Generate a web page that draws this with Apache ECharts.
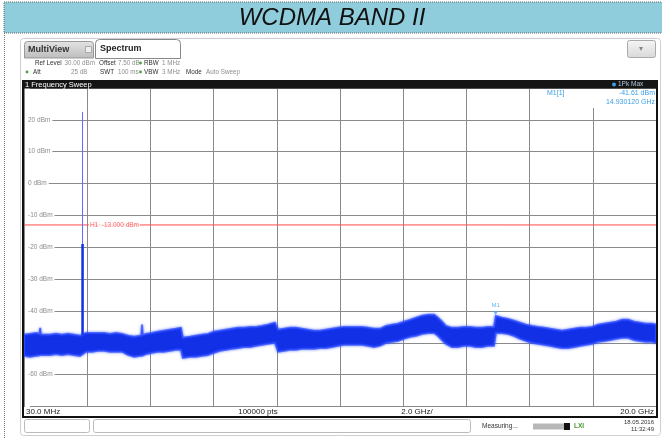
<!DOCTYPE html>
<html><head><meta charset="utf-8">
<script src="https://cdn.jsdelivr.net/npm/echarts@6/dist/echarts.min.js"></script>
<style>html,body{margin:0;padding:0;background:#fff}#c{width:662px;height:439px}</style>
</head><body><div id="c"></div>
<script>
// ---- data (frequency in GHz, level in dBm) ----
const freqGHz = [0.03,0.22,0.41,0.52,0.54,0.56,0.66,0.85,1.04,1.23,1.42,1.61,1.80,1.99,2.18,2.37,2.56,2.75,2.94,3.13,3.32,3.51,3.70,3.74,3.76,3.78,3.89,4.07,4.26,4.45,4.64,4.83,4.99,5.05,5.28,5.46,5.65,5.84,6.03,6.22,6.41,6.60,6.79,6.98,7.17,7.36,7.55,7.74,7.96,8.06,8.25,8.43,8.62,8.81,9.00,9.19,9.38,9.57,9.76,9.95,10.14,10.33,10.52,10.71,10.90,11.09,11.28,11.47,11.66,11.85,12.04,12.23,12.42,12.61,12.80,12.99,13.11,13.24,13.36,13.55,13.74,13.93,14.12,14.31,14.50,14.69,14.88,14.94,15.13,15.32,15.51,15.70,15.89,16.08,16.27,16.46,16.65,16.84,17.03,17.22,17.41,17.60,17.79,17.98,18.17,18.36,18.55,18.74,18.93,19.12,19.31,19.50,19.68,19.87,20.00];
const traceTop = [-47.5,-47.2,-46.9,-47.2,-45.3,-47.4,-47.5,-47.5,-47.2,-47.5,-47.2,-47.5,-47.8,-46.9,-46.9,-46.9,-46.9,-47.2,-46.9,-47.2,-47.8,-48.1,-47.8,-47.8,-44.3,-47.6,-47.2,-46.9,-46.5,-46.2,-45.9,-45.6,-45.3,-48.4,-48.1,-47.8,-47.5,-47.2,-46.5,-46.2,-45.9,-45.6,-45.3,-45.3,-45.0,-45.0,-44.7,-44.3,-43.7,-45.9,-45.6,-45.3,-45.3,-45.6,-45.9,-46.2,-46.2,-45.9,-45.6,-45.3,-45.0,-45.0,-45.0,-45.0,-45.3,-45.6,-45.6,-44.7,-44.3,-44.0,-43.4,-42.8,-42.1,-41.5,-41.2,-41.2,-42.1,-43.4,-44.7,-45.3,-45.3,-45.0,-45.0,-45.3,-45.3,-45.0,-45.0,-41.6,-42.1,-42.5,-43.1,-43.7,-44.3,-44.7,-45.0,-45.3,-45.6,-45.9,-46.2,-45.9,-45.6,-45.3,-45.3,-45.0,-44.3,-44.0,-43.7,-43.4,-42.8,-42.8,-43.4,-43.7,-44.0,-44.0,-44.3];
const traceBottom = [-54.1,-54.4,-54.1,-53.9,-53.8,-53.8,-53.8,-53.8,-53.5,-53.8,-53.5,-53.8,-54.1,-52.8,-52.8,-52.5,-52.5,-52.8,-52.8,-52.8,-53.8,-54.4,-54.1,-54.1,-54.0,-54.0,-53.5,-53.1,-52.8,-52.8,-52.5,-52.2,-52.2,-54.7,-54.4,-54.4,-54.1,-53.8,-53.1,-52.5,-52.2,-51.9,-51.6,-51.3,-51.3,-50.9,-50.6,-50.3,-50.0,-52.8,-52.5,-52.2,-52.2,-51.9,-51.9,-51.9,-51.6,-51.6,-51.3,-50.9,-50.6,-50.6,-50.6,-50.6,-50.9,-51.3,-50.9,-50.0,-49.7,-49.4,-48.7,-48.1,-47.8,-47.2,-46.9,-46.9,-47.8,-49.1,-50.3,-51.3,-51.3,-50.9,-50.9,-51.3,-51.3,-50.9,-50.9,-46.9,-46.9,-47.2,-47.8,-48.7,-49.4,-50.0,-50.3,-50.6,-50.9,-51.3,-51.6,-51.6,-51.3,-50.9,-50.6,-50.3,-49.7,-49.4,-49.1,-48.7,-48.4,-48.4,-49.1,-49.4,-49.7,-49.7,-50.0];
const carrierFreq = 1.88;
const carrierPeak = 22.5;
const carrierShoulder = -19;
const carrierBase = -47.5;
const limitLevel = -13;
const limitLabel = 'H1  -13.000 dBm';
const markerFreq = 14.93;
const markerLevel = -41.61;
const startFreq = 0.03, stopFreq = 20.0;
const yMin = -70, yMax = 30, yStep = 10;
const yTickLabels = {'20':'20 dBm','10':'10 dBm','0':'0 dBm','-10':'-10 dBm','-20':'-20 dBm','-30':'-30 dBm','-40':'-40 dBm','-50':'-50 dBm','-60':'-60 dBm'};
const xDivisions = 10;

const chart = echarts.init(document.getElementById('c'), null, {renderer:'canvas'});
const F = '"Liberation Sans", Arial, sans-serif';
const txt = (x,y,t,o={}) => ({type:'text', x, y, z:o.z||10, style:Object.assign({text:t, fontFamily:F, fontSize:6.5, fill:'#333', align:'left', verticalAlign:'middle'}, o.s||{})});
const lab = (x,y,t) => txt(x,y,t,{s:{fontSize:6.3, fill:'#2e2e2e'}});
const val = (x,y,t) => txt(x,y,t,{s:{fontSize:6.3, fill:'#8e8e8e'}});

const graphic = [
  {type:'rect', z:1, shape:{x:4,y:2,width:662,height:31}, style:{fill:'#8fcddc', stroke:'#666', lineWidth:1, lineDash:[1,1]}},
  txt(332,18,'WCDMA BAND II',{s:{fontSize:24, fontStyle:'italic', fill:'#111', align:'center'}}),
  {type:'line', z:1, shape:{x1:4.5,y1:33,x2:4.5,y2:439}, style:{stroke:'#777', lineDash:[1,1], lineWidth:1}},
  {type:'rect', z:1, shape:{x:20.5,y:38.5,width:640,height:397,r:3}, style:{fill:'none', stroke:'#cfcfcf', lineWidth:1}},
  // tabs
  {type:'rect', z:2, shape:{x:24.5,y:41.5,width:69,height:16.5,r:[3,3,0,0]}, style:{fill:new echarts.graphic.LinearGradient(0,0,0,1,[{offset:0,color:'#e4e4e4'},{offset:1,color:'#bcbcbc'}]), stroke:'#999'}},
  txt(28,50,'MultiView',{s:{fontSize:9, fontWeight:'bold', fill:'#333'}}),
  {type:'rect', z:3, shape:{x:85.5,y:46.5,width:6,height:6}, style:{fill:'#eee', stroke:'#aaa'}},
  {type:'rect', z:2, shape:{x:95.5,y:39.5,width:85,height:19,r:[4,4,0,0]}, style:{fill:'#fff', stroke:'#888'}},
  txt(100,49,'Spectrum',{s:{fontSize:9, fontWeight:'bold', fill:'#222'}}),
  {type:'rect', z:2, shape:{x:627.5,y:40.5,width:28,height:17,r:2}, style:{fill:new echarts.graphic.LinearGradient(0,0,0,1,[{offset:0,color:'#f6f6f6'},{offset:1,color:'#d8d8d8'}]), stroke:'#aaa'}},
  txt(641,49,'▾',{s:{fontSize:8, fill:'#888', align:'center'}}),
  // settings lines
  lab(35,63,'Ref Level'), val(64.5,63,'30.00 dBm'),
  lab(99,63,'Offset'), val(118,63,'7.50 dB'),
  {type:'circle', z:10, shape:{cx:140.5,cy:63,r:1.4}, style:{fill:'#4aa040'}},
  lab(144,63,'RBW'), val(162,63,'1 MHz'),
  {type:'circle', z:10, shape:{cx:27,cy:72,r:1.4}, style:{fill:'#4aa040'}},
  lab(33,72,'Att'), val(71,72,'25 dB'),
  lab(100,72,'SWT'), val(118,72,'100 ms'),
  {type:'circle', z:10, shape:{cx:140.5,cy:72,r:1.4}, style:{fill:'#4aa040'}},
  lab(144,72,'VBW'), val(162,72,'3 MHz'),
  lab(186,72,'Mode'), val(206,72,'Auto Sweep'),
  // sweep bar
  {type:'rect', z:2, shape:{x:22,y:80,width:636,height:8.5}, style:{fill:'#151515'}},
  txt(25,84.5,'1 Frequency Sweep',{s:{fontSize:7.5, fill:'#fff'}}),
  {type:'circle', z:10, shape:{cx:614,cy:84.5,r:2}, style:{fill:'#3a9ee6'}},
  txt(618,84.5,'1Pk Max',{s:{fontSize:6.5, fill:'#b0c8dc'}}),
  // plot frame
  {type:'rect', z:20, shape:{x:22,y:88,width:2,height:330}, style:{fill:'#111'}},
  {type:'rect', z:20, shape:{x:656,y:88,width:2,height:330}, style:{fill:'#111'}},
  {type:'rect', z:20, shape:{x:22,y:416,width:636,height:2}, style:{fill:'#111'}},
  txt(26,411.5,'30.0 MHz',{s:{fontSize:8, fill:'#222'}}),
  txt(258,411.5,'100000 pts',{s:{fontSize:8, fill:'#222', align:'center'}}),
  txt(417,411.5,'2.0 GHz/',{s:{fontSize:8, fill:'#222', align:'center'}}),
  txt(654,411.5,'20.0 GHz',{s:{fontSize:8, fill:'#222', align:'right'}}),
  // status bar
  {type:'rect', z:2, shape:{x:24.5,y:419.5,width:65,height:13,r:2}, style:{fill:'#fff', stroke:'#bbb'}},
  {type:'rect', z:2, shape:{x:93.5,y:419.5,width:377,height:13,r:2}, style:{fill:'#fff', stroke:'#bbb'}},
  txt(482,426.5,'Measuring...',{s:{fontSize:6.5, fill:'#333'}}),
  {type:'rect', z:2, shape:{x:533,y:423.5,width:31,height:6}, style:{fill:'#b8b8b8'}},
  {type:'rect', z:2, shape:{x:564,y:423,width:6,height:7}, style:{fill:'#111'}},
  txt(574,426.5,'LXI',{s:{fontSize:6.5, fontWeight:'bold', fill:'#4a9a30'}}),
  txt(654,422,'18.05.2016',{s:{fontSize:6, fill:'#333', align:'right'}}),
  txt(654,429.5,'11:32:49',{s:{fontSize:6, fill:'#333', align:'right'}}),
  // marker readout
  {type:'rect', z:9, shape:{x:590,y:89,width:66,height:19}, style:{fill:'#fff'}},
  txt(547,93.5,'M1[1]',{s:{fontSize:7, fill:'#3a9ee6'}}),
  txt(655,93.5,'-41.61 dBm',{s:{fontSize:7, fill:'#3a9ee6', align:'right'}}),
  txt(655,102.5,'14.930120 GHz',{s:{fontSize:7, fill:'#3a9ee6', align:'right'}})
];

const hiddenAxis = {axisLine:{show:false}, axisTick:{show:false}, axisLabel:{show:false}, splitLine:{show:false}};
const option = {
  animation:false,
  backgroundColor:'#fff',
  grid:{left:24, top:88, width:632, height:318.5, containLabel:false},
  xAxis:[
    Object.assign({type:'value', min:startFreq, max:stopFreq}, hiddenAxis),
    {type:'value', min:0, max:xDivisions, interval:1, z:0, axisLine:{show:false}, axisTick:{show:false}, axisLabel:{show:false},
     splitLine:{show:true, lineStyle:{color:'#8a8a8a', width:1}}}
  ],
  yAxis:[
    {type:'value', min:yMin, max:yMax, interval:yStep, z:1, axisLine:{show:false}, axisTick:{show:false}, splitLine:{show:false},
     axisLabel:{inside:true, margin:1, fontFamily:F, fontSize:6.5, color:'#8c8c8c', backgroundColor:'#fff', padding:[1,2,1,3],
       formatter:v => yTickLabels[String(v)] || ''}},
    {type:'value', min:yMin, max:yMax, interval:yStep, z:0, axisLine:{show:false}, axisTick:{show:false}, axisLabel:{show:false},
     splitLine:{show:true, lineStyle:{color:'#8a8a8a', width:1}}}
  ],
  series:[
    {type:'line', xAxisIndex:0, yAxisIndex:0, z:2, symbol:'none', silent:true,
     data:[[startFreq,limitLevel],[stopFreq,limitLevel]], lineStyle:{color:'#ff4a4a', width:1}},
    {type:'scatter', xAxisIndex:0, yAxisIndex:0, z:3, symbolSize:0, silent:true,
     data:[[2.08,limitLevel]],
     label:{show:true, position:'right', distance:0, formatter:limitLabel, fontFamily:F, fontSize:6.5, color:'#ff4040', backgroundColor:'#fff', padding:[0,1]}},
    {type:'custom', xAxisIndex:0, yAxisIndex:0, z:4, silent:true, clip:true,
     data:[[freqGHz[0], traceTop[0]]],
     renderItem:(params, api) => {
       const pts = [];
       for (let i=0;i<freqGHz.length;i++) pts.push(api.coord([freqGHz[i], traceTop[i]]));
       for (let i=freqGHz.length-1;i>=0;i--) pts.push(api.coord([freqGHz[i], traceBottom[i]]));
       return {type:'polygon', shape:{points:pts}, style:{fill:'#1230e6', stroke:'rgba(50,80,255,0.75)', lineWidth:2, shadowBlur:3, shadowColor:'rgba(40,70,255,0.7)'}};
     }},
    {type:'line', xAxisIndex:0, yAxisIndex:0, z:5, symbol:'none', silent:true,
     data:[[carrierFreq,carrierPeak],[carrierFreq,carrierBase]], lineStyle:{color:'#5a6cff', width:1}},
    {type:'line', xAxisIndex:0, yAxisIndex:0, z:5, symbol:'none', silent:true,
     data:[[carrierFreq,carrierShoulder],[carrierFreq,carrierBase]], lineStyle:{color:'#1030e8', width:2.5}},
    {type:'scatter', xAxisIndex:0, yAxisIndex:0, z:6, silent:true,
     data:[[markerFreq, markerLevel]], symbol:'triangle', symbolRotate:180, symbolSize:[5,4], symbolOffset:[0,-3],
     itemStyle:{color:'#45a8ee'},
     label:{show:true, position:'top', distance:3, formatter:'M1', fontFamily:F, fontSize:6, color:'#45a8ee'}}
  ],
  graphic: graphic
};
chart.setOption(option);
</script></body></html>
